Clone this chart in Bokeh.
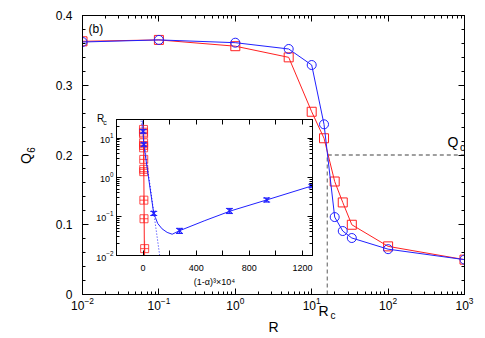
import numpy as np
from bokeh.plotting import figure
from bokeh.models import (LogAxis, LinearAxis, Label, FixedTicker, LogTicker,
                          SingleIntervalTicker, CustomJSTickFormatter, GridBox)
from bokeh.embed import file_html
from bokeh.resources import INLINE

# ---------------- main panel data ----------------
R = [0.01, 0.1, 1, 5, 10, 14.5, 20, 25.5, 33.5, 100, 1000]
Q6_blue = [0.362, 0.365, 0.361, 0.352, 0.329, 0.244, 0.111, 0.091, 0.081, 0.065, 0.050]
Q6_red = [0.363, 0.365, 0.356, 0.340, 0.262, 0.224, 0.162, 0.132, 0.100, 0.069, 0.050]
R_c = 16
Q_c = 0.2

# ---------------- inset data ----------------
red_a = [3, 3, 4, 4, 4, 4, 5, 5, 5, 6, 7, 12]
red_rc = [16.7, 14.2, 12.9, 7.6, 6.5, 5.66, 2.87, 1.6, 1.39, 0.26, 0.087, 0.015]
red_err = [0.1, 0.1, 0.1, 0.1, 0.1, 0.1, 0.15, 0.15, 0.15, 0.2, 0.2, 0.6]
red_fit_a = [3, 10]
red_fit_rc = [30, 0.01]

blue_a = [0, 5, 80, 274, 650, 930, 1270]
blue_rc = [15, 6.9, 0.12, 0.043, 0.139, 0.264, 0.6]
blue_err = [0.1, 0.1, 0.12, 0.15, 0.15, 0.12, 0.1]
blue_fit_a = [-2, 0, 5, 80, 93, 110, 143, 181, 219, 274, 465, 659, 930, 1270]
blue_fit_rc = [28.2, 15.1, 6.9, 0.120, 0.093, 0.066, 0.048, 0.039, 0.035, 0.043,
               0.078, 0.138, 0.263, 0.60]
blue_dot_a = [-15, 125]
blue_dot_rc = [28, 0.01]

FONT = "Liberation Sans"
BLUE = "#2020ff"
RED = "#ff2020"

blank = CustomJSTickFormatter(code="return ''")


def style_axis(ax, tick_in, minor_in, size, standoff):
    ax.major_tick_in = tick_in
    ax.major_tick_out = 0
    ax.minor_tick_in = minor_in
    ax.minor_tick_out = 0
    ax.axis_line_color = "black"
    ax.major_tick_line_color = "black"
    ax.minor_tick_line_color = "black"
    ax.major_label_text_font = FONT
    ax.major_label_text_font_size = size
    ax.major_label_text_color = "black"
    ax.major_label_standoff = standoff


def lab(fig, text, x, y, size, align="left", base="middle", angle=0, xo=0, yo=0):
    fig.add_layout(Label(x=x, y=y, x_offset=xo, y_offset=yo, text=text,
                         text_font=FONT, text_font_size=size, text_color="black",
                         text_align=align, text_baseline=base, angle=angle))


# ---------------- main figure ----------------
p = figure(width=469, height=326, x_axis_type="log", x_range=(0.01, 1000), y_range=(0, 0.4),
           output_backend="svg", toolbar_location=None,
           min_border_left=74, min_border_right=13, min_border_top=7, min_border_bottom=40)
p.grid.visible = False
p.outline_line_color = "black"
p.outline_line_width = 1
p.background_fill_color = "white"
p.border_fill_alpha = 0

p.xaxis.ticker = LogTicker(num_minor_ticks=10)
style_axis(p.xaxis[0], 6, 3, "12px", 2)
p.yaxis.ticker = SingleIntervalTicker(interval=0.1, num_minor_ticks=5)
style_axis(p.yaxis[0], 6, 3, "12px", 10)

top_ax = LogAxis(ticker=LogTicker(num_minor_ticks=10), formatter=blank)
style_axis(top_ax, 6, 3, "12px", 0)
p.add_layout(top_ax, "above")
right_ax = LinearAxis(ticker=SingleIntervalTicker(interval=0.1, num_minor_ticks=5), formatter=blank)
style_axis(right_ax, 6, 3, "12px", 0)
p.add_layout(right_ax, "right")

# dashed critical lines
p.line([R_c, R_c, R[-1]], [0, Q_c, Q_c], line_color="#808080", line_dash="4 3", line_width=1.3)

p.line(R, Q6_red, line_color=RED, line_width=1)
p.scatter(R, Q6_red, marker="square", size=9, fill_color=None, line_color=RED, line_width=1)
p.line(R, Q6_blue, line_color=BLUE, line_width=1)
p.scatter(R, Q6_blue, marker="circle", size=9, fill_color=None, line_color=BLUE, line_width=1)

lab(p, "(b)", 0.01, 0.4, "12px", base="top", xo=6, yo=-6)

# ---------------- inset figure ----------------
ins = figure(width=224, height=180, y_axis_type="log", x_range=(-200, 1275), y_range=(0.01, 30),
             output_backend="svg", toolbar_location=None,
             min_border_left=24, min_border_right=4, min_border_top=9, min_border_bottom=35)
ins.grid.visible = False
ins.outline_line_color = "black"
ins.border_fill_alpha = 0
ins.background_fill_color = "white"

ins.xaxis.ticker = FixedTicker(ticks=[0, 400, 800, 1200], minor_ticks=[-200, 200, 600, 1000])
style_axis(ins.xaxis[0], 5, 5, "9px", 9)
ins.xaxis.axis_label = "(1-\u03b1)\u00b3\u00d710\u2074"
ins.xaxis.axis_label_text_font = FONT
ins.xaxis.axis_label_text_font_size = "9px"
ins.xaxis.axis_label_text_font_style = "normal"
ins.xaxis.axis_label_text_color = "black"
ins.xaxis.axis_label_standoff = 3
ins.yaxis.ticker = LogTicker(num_minor_ticks=10)
style_axis(ins.yaxis[0], 5, 3, "9px", 3)

itop = LinearAxis(ticker=FixedTicker(ticks=[0, 400, 800, 1200], minor_ticks=[-200, 200, 600, 1000]),
                  formatter=blank)
style_axis(itop, 5, 5, "9px", 0)
ins.add_layout(itop, "above")
iright = LogAxis(ticker=LogTicker(num_minor_ticks=10), formatter=blank)
style_axis(iright, 5, 3, "9px", 0)
ins.add_layout(iright, "right")

# red series
r_lo = [v * (1 - e) for v, e in zip(red_rc, red_err)]
r_hi = [v * (1 + e) for v, e in zip(red_rc, red_err)]
ins.segment(red_a, r_lo, red_a, r_hi, line_color=RED, line_alpha=0.4, line_width=1)
ins.line(red_fit_a, red_fit_rc, line_color=RED, line_width=1)
ins.scatter(red_a, red_rc, marker="square_cross", size=8, fill_color=None,
            line_color=RED, line_alpha=0.8, line_width=1)

# blue series
ins.line(blue_dot_a, blue_dot_rc, line_color=BLUE, line_dash="1 2", line_width=1)
ins.line(blue_fit_a, blue_fit_rc, line_color=BLUE, line_width=1)
b_lo = [v * (1 - e) for v, e in zip(blue_rc, blue_err)]
b_hi = [v * (1 + e) for v, e in zip(blue_rc, blue_err)]
ins.segment(blue_a, b_lo, blue_a, b_hi, line_color=BLUE, line_width=1)
ins.scatter(blue_a, b_lo, marker="dash", size=7, line_color=BLUE, line_width=1)
ins.scatter(blue_a, b_hi, marker="dash", size=7, line_color=BLUE, line_width=1)
ins.scatter(blue_a, blue_rc, marker="x", size=7, line_color=BLUE, line_width=1.2)

# ---------------- transparent text overlay (pixel coordinates, origin bottom-left) ----------------
OW, OH = 477, 334
ann = figure(width=OW, height=OH, x_range=(0, OW), y_range=(0, OH), title=None,
             x_axis_location=None, y_axis_location=None,
             output_backend="svg", toolbar_location=None,
             min_border=0, min_border_left=0, min_border_right=0,
             min_border_top=0, min_border_bottom=0)
ann.grid.visible = False
ann.outline_line_color = None
ann.background_fill_alpha = 0
ann.border_fill_alpha = 0


def tl(text, x_img, y_img, size, **kw):
    # place text given image pixel coordinates (vertical centre of the text)
    lab(ann, text, x_img, OH - y_img, size, **kw)


tl("R", 273, 326, "14px", align="center")
tl("R", 318, 310, "14px")
tl("c", 330, 315, "10px")
tl("Q", 447, 141, "14px")
tl("c", 459.5, 147, "10px")
tl("Q", 25, 158, "14px", align="center", angle=np.pi / 2)
tl("6", 30.5, 149.5, "10px", align="center", angle=np.pi / 2)
tl("R", 100, 117.5, "10px", align="center")
tl("c", 104.5, 122, "7px", align="center")

# ---------------- overlay layout ----------------
# the overlay spans an extra zero-size track so its frame is not aligned to the main frame
root = GridBox(children=[(p, 1, 1, 3, 3), (ins, 2, 2, 1, 1), (ann, 0, 0, 5, 5)],
               rows=["8px", "102px", "180px", "44px", "0px"],
               cols=["8px", "84px", "224px", "161px", "0px"])

open("out.html", "w").write(file_html(root, INLINE))
